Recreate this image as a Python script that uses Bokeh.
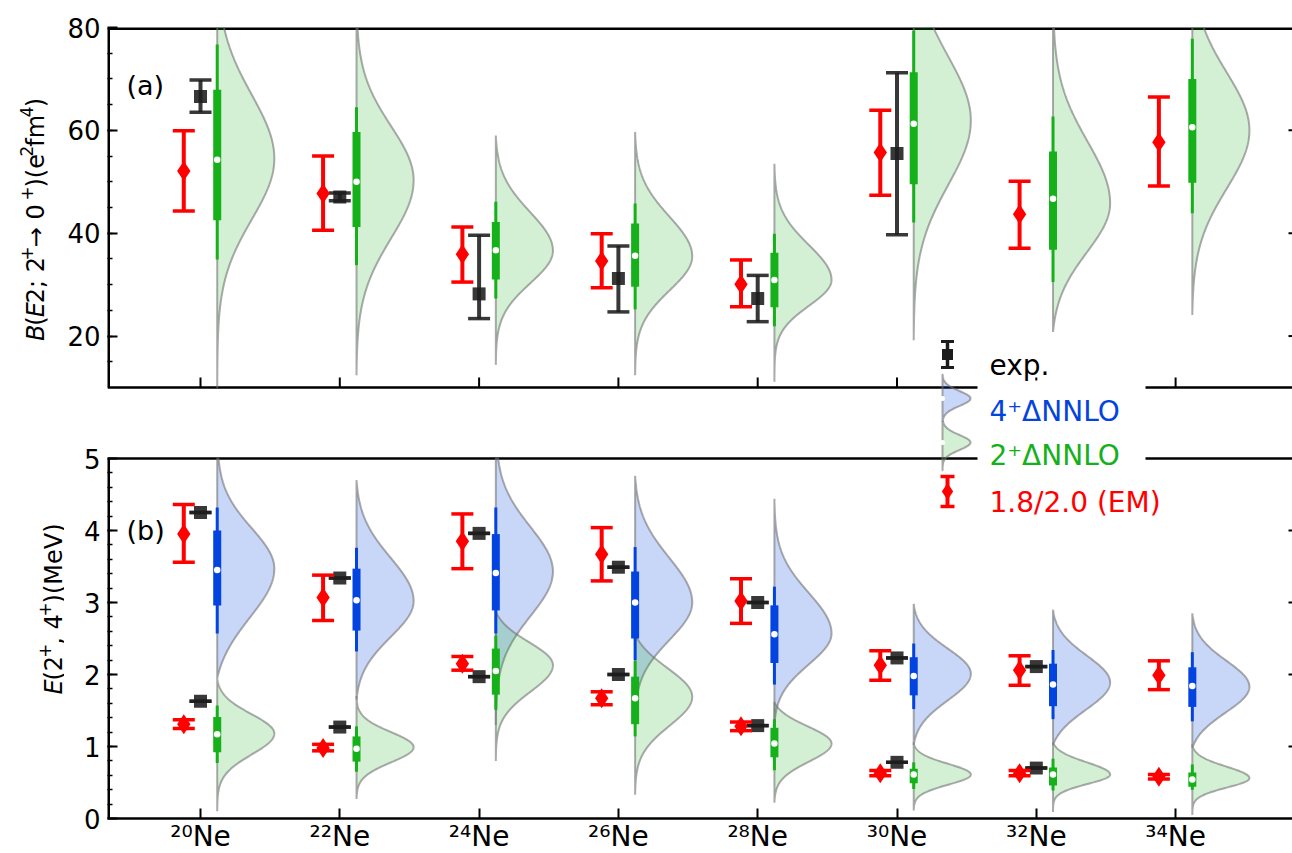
import numpy as np
from bokeh.plotting import figure
from bokeh.layouts import row
from bokeh.models import Range1d, FixedTicker, CustomJSTickFormatter
from bokeh.embed import file_html
from bokeh.resources import INLINE
from bokeh.core.properties import value

# ---------------- data ----------------
nuclei = ["²⁰Ne", "²²Ne", "²⁴Ne", "²⁶Ne", "²⁸Ne", "³⁰Ne", "³²Ne", "³⁴Ne"]

# panel (a): B(E2; 2+ -> 0+) [e^2 fm^4]
be2_em = [52.1, 47.7, 35.9, 34.6, 30.1, 55.7, 43.7, 57.7]
be2_em_lo = [44.3, 40.6, 30.5, 29.4, 25.7, 47.4, 37.1, 49.2]
be2_em_hi = [59.9, 55.0, 41.2, 39.9, 34.8, 63.9, 50.1, 66.5]

be2_exp_idx = [0, 1, 2, 3, 4, 5]
be2_exp = [66.6, 47.05, 28.2, 31.2, 27.3, 55.5]
be2_exp_lo = [63.5, 46.3, 23.4, 24.7, 22.8, 39.7]
be2_exp_hi = [69.8, 47.8, 39.6, 37.5, 31.8, 71.2]

# 2+ DNNLO B(E2) distributions
be2_med = [54.3, 50.0, 36.7, 35.6, 30.9, 61.3, 46.7, 60.6]
be2_q1 = [42.5, 41.2, 31.0, 29.6, 25.6, 49.5, 36.8, 49.8]
be2_q3 = [67.9, 59.7, 42.2, 41.9, 36.2, 71.3, 55.9, 70.0]
be2_wlo = [34.9, 33.8, 27.3, 25.2, 21.9, 42.1, 30.5, 43.9]
be2_whi = [76.7, 64.5, 46.1, 45.8, 39.9, 79.4, 62.7, 77.8]
be2_peak = [54.5, 50.3, 36.6, 35.5, 30.9, 61.9, 45.8, 60.0]
be2_sd_lo = [11.8, 11.3, 6.3, 6.6, 5.0, 12.5, 9.5, 11.3]
be2_sd_hi = [12.4, 10.5, 7.5, 7.7, 6.8, 12.5, 12.0, 11.2]
be2_min = [4.0, 12.4, 14.4, 12.4, 11.1, 19.2, 20.8, 24.1]
be2_max = [100.0, 100.0, 59.0, 59.7, 53.5, 100.0, 100.0, 100.0]

# panel (b): excitation energies [MeV]
e4_em = [3.95, 3.07, 3.85, 3.67, 3.02, 2.13, 2.06, 1.99]
e4_em_lo = [3.56, 2.75, 3.47, 3.30, 2.71, 1.92, 1.85, 1.79]
e4_em_hi = [4.36, 3.38, 4.23, 4.04, 3.33, 2.33, 2.26, 2.19]
e2_em = [1.31, 0.98, 2.15, 1.67, 1.28, 0.63, 0.63, 0.58]
e2_em_lo = [1.25, 0.94, 2.06, 1.58, 1.22, 0.595, 0.595, 0.55]
e2_em_hi = [1.37, 1.03, 2.25, 1.76, 1.34, 0.665, 0.665, 0.61]

e_exp_idx = [0, 1, 2, 3, 4, 5, 6]
e4_exp = [4.25, 3.34, 3.96, 3.49, 3.00, 2.23, 2.11]
e2_exp = [1.63, 1.27, 1.97, 2.00, 1.29, 0.78, 0.70]

# 4+ DNNLO distributions
e4_med = [3.45, 3.03, 3.41, 3.00, 2.56, 1.98, 1.86, 1.84]
e4_q1 = [2.96, 2.61, 2.89, 2.50, 2.16, 1.71, 1.56, 1.55]
e4_q3 = [4.00, 3.47, 3.95, 3.43, 2.96, 2.24, 2.15, 2.10]
e4_wlo = [2.57, 2.32, 2.57, 2.20, 1.86, 1.52, 1.38, 1.35]
e4_whi = [4.32, 3.76, 4.32, 3.77, 3.22, 2.43, 2.34, 2.31]
e4_peak = [3.47, 3.02, 3.43, 3.00, 2.57, 2.01, 1.89, 1.83]
e4_sd_lo = [0.68, 0.50, 0.62, 0.52, 0.43, 0.37, 0.38, 0.36]
e4_sd_hi = [0.56, 0.60, 0.62, 0.62, 0.56, 0.35, 0.37, 0.36]
e4_min = [1.95, 1.65, 1.30, 1.45, 1.30, 1.02, 1.02, 0.98]
e4_max = [6.00, 4.70, 6.00, 4.76, 4.44, 2.98, 2.90, 2.85]

# 2+ DNNLO distributions
e2_med = [1.17, 0.97, 2.05, 1.67, 1.04, 0.61, 0.61, 0.54]
e2_q1 = [0.92, 0.79, 1.72, 1.31, 0.85, 0.49, 0.46, 0.44]
e2_q3 = [1.41, 1.14, 2.36, 1.97, 1.26, 0.69, 0.71, 0.64]
e2_wlo = [0.77, 0.65, 1.51, 1.14, 0.67, 0.41, 0.39, 0.40]
e2_whi = [1.57, 1.28, 2.54, 2.19, 1.38, 0.78, 0.83, 0.75]
e2_peak = [1.18, 0.99, 2.13, 1.69, 1.04, 0.61, 0.61, 0.56]
e2_sd_lo = [0.29, 0.21, 0.37, 0.40, 0.25, 0.14, 0.13, 0.13]
e2_sd_hi = [0.27, 0.21, 0.32, 0.40, 0.24, 0.15, 0.17, 0.16]
e2_min = [0.10, 0.27, 0.80, 0.33, 0.22, 0.11, 0.09, 0.05]
e2_max = [1.95, 1.70, 2.88, 2.56, 1.62, 1.06, 1.06, 1.03]

top_ticks = [20, 40, 60, 80]
top_minor = [15, 20, 25, 30, 35, 40, 45, 50, 55, 60, 65, 70, 75]
bot_ticks = [0, 1, 2, 3, 4, 5]
bot_minor = [0.2 * k for k in range(1, 25)]

# ---------------- layout (page pixels) ----------------
FL, FR, FT, FB = 105, 1291, 27, 818          # frame box
LW = 64                                      # width of the strip holding the y titles
TOP_PX = (27, 387)
BOT_PX = (458, 818)
TOP_LIM = (10.0, 80.0)
BOT_LIM = (0.0, 5.0)
TICK0_PX, TICK_STEP_PX = 198.0, 139.3
HT = 852

X0 = (FL - TICK0_PX) / TICK_STEP_PX
X1 = (FR - TICK0_PX) / TICK_STEP_PX
H = FB - FT


def px2x(px):
    return X0 + (px - FL) / TICK_STEP_PX


def py2m(py):
    return FB - py


def panel_range(lim, px):
    upp = (lim[1] - lim[0]) / (px[1] - px[0])
    return lim[0] - (FB - px[1]) * upp, lim[1] + (px[0] - FT) * upp


top_r = panel_range(TOP_LIM, TOP_PX)
bot_r = panel_range(BOT_LIM, BOT_PX)


def to_main(v, r):
    return (v - r[0]) / (r[1] - r[0]) * H


BLUE, GREEN, RED, BLACK = "#0343df", "#15b01a", "#ff0000", "#1c1c1c"
FONT = "DejaVu Sans"
HALF_W = 0.41

p = figure(frame_width=FR - FL, frame_height=H,
           x_range=Range1d(X0, X1), y_range=Range1d(0, H),
           output_backend="svg", toolbar_location=None,
           min_border_left=FL - LW, min_border_right=0,
           min_border_top=FT, min_border_bottom=HT - FB)
p.extra_y_ranges = {"top": Range1d(*top_r), "bot": Range1d(*bot_r)}
p.outline_line_color = None
p.grid.visible = False
p.background_fill_color = "white"
p.border_fill_color = "white"

# ---- axes ----
ya = p.yaxis[0]
maj_pos = [to_main(v, top_r) for v in top_ticks] + [to_main(v, bot_r) for v in bot_ticks]
maj_lab = [str(v) for v in top_ticks] + [str(v) for v in bot_ticks]
min_pos = [to_main(v, top_r) for v in top_minor] + [to_main(v, bot_r) for v in bot_minor]
ya.ticker = FixedTicker(ticks=maj_pos, minor_ticks=min_pos)
ya.formatter = CustomJSTickFormatter(args=dict(pos=maj_pos, labs=maj_lab), code="""
let best = 0, bd = 1e12;
for (let i = 0; i < pos.length; i++) { const d = Math.abs(pos[i] - tick); if (d < bd) { bd = d; best = i; } }
return labs[best];
""")
ya.axis_line_color = None
ya.major_tick_in, ya.major_tick_out = 10, 0
ya.minor_tick_in, ya.minor_tick_out = 5, 0
ya.major_tick_line_width = 2
ya.minor_tick_line_width = 1.5
ya.major_label_text_font = FONT
ya.major_label_text_font_size = "26px"
ya.major_label_text_color = "black"
ya.major_label_standoff = 7

xa = p.xaxis[0]
xa.ticker = FixedTicker(ticks=list(range(len(nuclei))))
xa.major_label_overrides = {i: n for i, n in enumerate(nuclei)}
xa.axis_line_width = 2.5
xa.major_tick_in, xa.major_tick_out = 10, 0
xa.major_tick_line_width = 2
xa.minor_tick_line_color = None
xa.major_label_text_font = FONT
xa.major_label_text_font_size = "28px"
xa.major_label_text_color = "black"
xa.major_label_standoff = 1

# ---- panel frames ----
p.hspan(y=[TOP_LIM[1]], y_range_name="top", line_color="black", line_width=5)
p.hspan(y=[TOP_LIM[0]], y_range_name="top", line_color="black", line_width=2.5)
p.hspan(y=[BOT_LIM[1]], y_range_name="bot", line_color="black", line_width=2.5)
p.segment(x0=[X0], y0=[TOP_LIM[0]], x1=[X0], y1=[TOP_LIM[1]], y_range_name="top",
          line_color="black", line_width=5)
p.segment(x0=[X0], y0=[BOT_LIM[0]], x1=[X0], y1=[BOT_LIM[1]], y_range_name="bot",
          line_color="black", line_width=5)
xs_cat = np.arange(len(nuclei), dtype=float)
tick_len_top = 10 * (TOP_LIM[1] - TOP_LIM[0]) / (TOP_PX[1] - TOP_PX[0])
p.segment(x0=xs_cat, y0=TOP_LIM[0], x1=xs_cat, y1=TOP_LIM[0] + tick_len_top,
          y_range_name="top", line_color="black", line_width=2)
rt = 5 / TICK_STEP_PX
p.segment(x0=X1 - rt, y0=top_ticks[:3], x1=X1, y1=top_ticks[:3], y_range_name="top",
          line_color="black", line_width=2)
p.segment(x0=X1 - rt, y0=bot_ticks[1:5], x1=X1, y1=bot_ticks[1:5], y_range_name="bot",
          line_color="black", line_width=2)


# ---- violins ----
def half_violin(cx, peak, sl, sh, lo, hi, clip):
    a, b = max(lo, clip[0]), min(hi, clip[1])
    ys = np.linspace(a, b, 260)
    g_lo = np.exp(-0.5 * ((lo - peak) / sl) ** 2)
    g_hi = np.exp(-0.5 * ((hi - peak) / sh) ** 2)
    below = ys < peak
    s = np.where(below, sl, sh)
    g0 = np.where(below, g_lo, g_hi)
    g = np.exp(-0.5 * ((ys - peak) / s) ** 2)
    w = HALF_W * np.clip((g - g0) / (1 - g0), 0, None)
    return (np.concatenate([[cx], cx + w, [cx]]).tolist(),
            np.concatenate([[a], ys, [b]]).tolist())


def draw_violins(peak, sl, sh, lo, hi, clip, color, alpha, rng):
    vx, vy = [], []
    for i in range(len(peak)):
        a, b = half_violin(xs_cat[i] + 0.12, peak[i], sl[i], sh[i], lo[i], hi[i], clip)
        vx.append(a)
        vy.append(b)
    p.patches(xs=vx, ys=vy, y_range_name=rng, fill_color=color, fill_alpha=alpha,
              line_color="#737373", line_alpha=0.6, line_width=2)


def draw_boxes(med, q1, q3, wlo, whi, color, rng):
    cx = xs_cat + 0.12
    p.segment(x0=cx, y0=wlo, x1=cx, y1=whi, y_range_name=rng, line_color=color, line_width=3)
    p.segment(x0=cx, y0=q1, x1=cx, y1=q3, y_range_name=rng, line_color=color, line_width=8)
    p.scatter(cx, med, y_range_name=rng, marker="circle", size=6.5,
              fill_color="white", line_color=None)


draw_violins(be2_peak, be2_sd_lo, be2_sd_hi, be2_min, be2_max, (TOP_LIM[0], 82), GREEN, 0.19, "top")
draw_violins(e4_peak, e4_sd_lo, e4_sd_hi, e4_min, e4_max, BOT_LIM, BLUE, 0.22, "bot")
draw_violins(e2_peak, e2_sd_lo, e2_sd_hi, e2_min, e2_max, BOT_LIM, GREEN, 0.19, "bot")
draw_boxes(be2_med, be2_q1, be2_q3, be2_wlo, be2_whi, GREEN, "top")
draw_boxes(e4_med, e4_q1, e4_q3, e4_wlo, e4_whi, BLUE, "bot")
draw_boxes(e2_med, e2_q1, e2_q3, e2_wlo, e2_whi, GREEN, "bot")


# ---- error bars ----
def errbar(x, y, lo, hi, color, marker, msize, rng, alpha=1.0):
    p.segment(x0=x, y0=lo, x1=x, y1=hi, y_range_name=rng, line_color=color,
              line_width=4, line_alpha=alpha)
    p.scatter(x, lo, marker="dash", size=22, line_color=color, line_width=3.5,
              y_range_name=rng, line_alpha=alpha)
    p.scatter(x, hi, marker="dash", size=22, line_color=color, line_width=3.5,
              y_range_name=rng, line_alpha=alpha)
    p.scatter(x, y, marker=marker, size=msize, fill_color=color, line_color=None,
              y_range_name=rng, fill_alpha=alpha)


ex_a = xs_cat[be2_exp_idx]
errbar(ex_a, be2_exp, be2_exp_lo, be2_exp_hi, BLACK, "square", 13, "top", 0.88)
errbar(xs_cat - 0.12, be2_em, be2_em_lo, be2_em_hi, RED, "diamond", 20, "top")

ex_b = xs_cat[e_exp_idx]
errbar(ex_b, e4_exp, e4_exp, e4_exp, BLACK, "square", 13, "bot", 0.88)
errbar(ex_b, e2_exp, e2_exp, e2_exp, BLACK, "square", 13, "bot", 0.88)
errbar(xs_cat - 0.12, e4_em, e4_em_lo, e4_em_hi, RED, "diamond", 20, "bot")
errbar(xs_cat - 0.12, e2_em, e2_em_lo, e2_em_hi, RED, "diamond", 20, "bot")

# ---- legend (manual, placed between the panels) ----
icon_x = px2x(945)
txt_x = px2x(987)
p.quad(left=[px2x(975)] * 2, right=[px2x(1143)] * 2,
       top=[py2m(380), py2m(424)], bottom=[py2m(420), py2m(462)],
       fill_color="white", line_color=None)
# exp.
p.segment(x0=[icon_x], y0=[py2m(341)], x1=[icon_x], y1=[py2m(367)], line_color=BLACK, line_width=3.5)
p.scatter([icon_x, icon_x], [py2m(341), py2m(367)], marker="dash", size=13,
          line_color=BLACK, line_width=3)
p.scatter([icon_x], [py2m(354)], marker="square", size=11, fill_color=BLACK, line_color=None)
# violin icons
vic_x = px2x(940)
for (t, b, pk, col, al) in [(374, 421, 398, BLUE, 0.22), (421, 470, 442, GREEN, 0.19)]:
    yy = np.linspace(py2m(b), py2m(t), 60)
    ww = (28 / TICK_STEP_PX) * np.exp(-0.5 * ((yy - py2m(pk)) / 7.5) ** 2)
    p.patch(np.concatenate([[vic_x], vic_x + ww, [vic_x]]),
            np.concatenate([[yy[0]], yy, [yy[-1]]]),
            fill_color=col, fill_alpha=al, line_color="#737373", line_alpha=0.6, line_width=2)
    p.scatter([vic_x], [py2m(pk)], marker="circle", size=5, fill_color="white", line_color=None)
# EM
p.segment(x0=[icon_x], y0=[py2m(476)], x1=[icon_x], y1=[py2m(506)], line_color=RED, line_width=4)
p.scatter([icon_x, icon_x], [py2m(476), py2m(506)], marker="dash", size=14,
          line_color=RED, line_width=3.5)
p.scatter([icon_x], [py2m(491)], marker="diamond", size=17, fill_color=RED, line_color=None)

leg_text = ["exp.", "4⁺ΔNNLO", "2⁺ΔNNLO", "1.8/2.0 (EM)"]
leg_col = ["black", BLUE, GREEN, RED]
leg_base = [365, 411, 455, 502]
p.text(x=[txt_x] * 4, y=[py2m(b) for b in leg_base], text=leg_text, text_color=leg_col,
       text_font=value(FONT), text_font_size="28px", text_baseline="alphabetic",
       text_align="left")

# panel tags
p.text(x=[px2x(124), px2x(124)], y=[py2m(85), py2m(530)], text=["(a)", "(b)"],
       text_font=value(FONT), text_font_size="27px", text_color="black",
       text_baseline="alphabetic", text_align="left")

# ---- y axis titles in a narrow strip left of the plot ----
q = figure(width=LW, height=HT, x_range=Range1d(0, LW), y_range=Range1d(0, HT),
           output_backend="svg", toolbar_location=None, x_axis_type=None, y_axis_type=None,
           min_border=0)
q.outline_line_color = None
q.background_fill_color = "white"
q.border_fill_color = "white"

FS = 24
SUP = 0.7


def ylabel(pieces, cx_px, cy_py):
    # pieces: (text, style, advance in em, superscript?)
    total = sum(w * (SUP if s else 1.0) for (_, _, w, s) in pieces) * FS
    start = (HT - cy_py) - total / 2
    base_x = cx_px + 0.36 * FS
    for (txt, style, w, sup) in pieces:
        size = FS * (SUP if sup else 1.0)
        q.text(x=[base_x - (0.40 * FS if sup else 0.0)], y=[start], text=[txt], angle=np.pi / 2,
               text_font=value(FONT), text_font_style=style, text_font_size=f"{size:.1f}px",
               text_color="black", text_align="left", text_baseline="alphabetic")
        start += w * size


ylabel([("B", "italic", 0.686, False), ("(", "normal", 0.39, False), ("E", "italic", 0.632, False),
        ("2; 2", "normal", 1.927, False), ("+", "normal", 0.838, True),
        (" → 0", "normal", 2.11, False), ("+", "normal", 0.838, True),
        (")(e", "normal", 1.395, False), ("2", "normal", 0.636, True),
        ("fm", "normal", 1.326, False), ("4", "normal", 0.636, True),
        (")", "normal", 0.39, False)], 27, 208)
ylabel([("E", "italic", 0.632, False), ("(2", "normal", 1.026, False), ("+", "normal", 0.838, True),
        (", 4", "normal", 1.272, False), ("+", "normal", 0.838, True),
        (")(MeV)", "normal", 3.332, False)], 45, 632)

layout = row(q, p, spacing=0)
open("out.html", "w").write(file_html(layout, INLINE))
